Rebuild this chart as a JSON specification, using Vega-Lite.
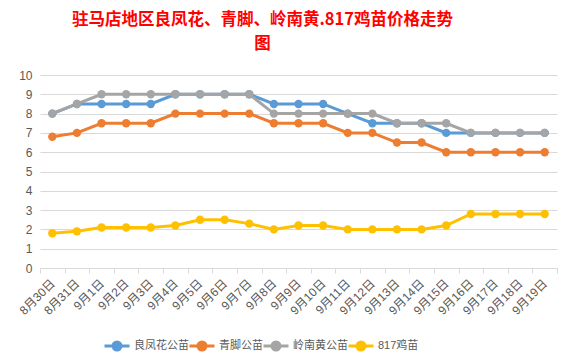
{
  "$schema": "https://vega.github.io/schema/vega-lite/v6.json",
  "autosize": "none",
  "width": 517,
  "height": 193,
  "padding": {"left": 40, "top": 75, "right": 19, "bottom": 93},
  "background": "white",
  "title": {
    "text": ["驻马店地区良凤花、青脚、岭南黄.817鸡苗价格走势", "图"],
    "color": "#FF0000",
    "font": "Noto Sans CJK SC",
    "fontSize": 16.5,
    "fontWeight": "bold",
    "lineHeight": 24,
    "anchor": "middle",
    "dx": -36,
    "offset": 17
  },
  "data": {
    "values": [
      {"date": "8月30日", "series": "良凤花公苗", "price": 8},
      {"date": "8月31日", "series": "良凤花公苗", "price": 8.5},
      {"date": "9月1日", "series": "良凤花公苗", "price": 8.5},
      {"date": "9月2日", "series": "良凤花公苗", "price": 8.5},
      {"date": "9月3日", "series": "良凤花公苗", "price": 8.5},
      {"date": "9月4日", "series": "良凤花公苗", "price": 9},
      {"date": "9月5日", "series": "良凤花公苗", "price": 9},
      {"date": "9月6日", "series": "良凤花公苗", "price": 9},
      {"date": "9月7日", "series": "良凤花公苗", "price": 9},
      {"date": "9月8日", "series": "良凤花公苗", "price": 8.5},
      {"date": "9月9日", "series": "良凤花公苗", "price": 8.5},
      {"date": "9月10日", "series": "良凤花公苗", "price": 8.5},
      {"date": "9月11日", "series": "良凤花公苗", "price": 8},
      {"date": "9月12日", "series": "良凤花公苗", "price": 7.5},
      {"date": "9月13日", "series": "良凤花公苗", "price": 7.5},
      {"date": "9月14日", "series": "良凤花公苗", "price": 7.5},
      {"date": "9月15日", "series": "良凤花公苗", "price": 7},
      {"date": "9月16日", "series": "良凤花公苗", "price": 7},
      {"date": "9月17日", "series": "良凤花公苗", "price": 7},
      {"date": "9月18日", "series": "良凤花公苗", "price": 7},
      {"date": "9月19日", "series": "良凤花公苗", "price": 7},
      {"date": "8月30日", "series": "青脚公苗", "price": 6.8},
      {"date": "8月31日", "series": "青脚公苗", "price": 7},
      {"date": "9月1日", "series": "青脚公苗", "price": 7.5},
      {"date": "9月2日", "series": "青脚公苗", "price": 7.5},
      {"date": "9月3日", "series": "青脚公苗", "price": 7.5},
      {"date": "9月4日", "series": "青脚公苗", "price": 8},
      {"date": "9月5日", "series": "青脚公苗", "price": 8},
      {"date": "9月6日", "series": "青脚公苗", "price": 8},
      {"date": "9月7日", "series": "青脚公苗", "price": 8},
      {"date": "9月8日", "series": "青脚公苗", "price": 7.5},
      {"date": "9月9日", "series": "青脚公苗", "price": 7.5},
      {"date": "9月10日", "series": "青脚公苗", "price": 7.5},
      {"date": "9月11日", "series": "青脚公苗", "price": 7},
      {"date": "9月12日", "series": "青脚公苗", "price": 7},
      {"date": "9月13日", "series": "青脚公苗", "price": 6.5},
      {"date": "9月14日", "series": "青脚公苗", "price": 6.5},
      {"date": "9月15日", "series": "青脚公苗", "price": 6},
      {"date": "9月16日", "series": "青脚公苗", "price": 6},
      {"date": "9月17日", "series": "青脚公苗", "price": 6},
      {"date": "9月18日", "series": "青脚公苗", "price": 6},
      {"date": "9月19日", "series": "青脚公苗", "price": 6},
      {"date": "8月30日", "series": "岭南黄公苗", "price": 8},
      {"date": "8月31日", "series": "岭南黄公苗", "price": 8.5},
      {"date": "9月1日", "series": "岭南黄公苗", "price": 9},
      {"date": "9月2日", "series": "岭南黄公苗", "price": 9},
      {"date": "9月3日", "series": "岭南黄公苗", "price": 9},
      {"date": "9月4日", "series": "岭南黄公苗", "price": 9},
      {"date": "9月5日", "series": "岭南黄公苗", "price": 9},
      {"date": "9月6日", "series": "岭南黄公苗", "price": 9},
      {"date": "9月7日", "series": "岭南黄公苗", "price": 9},
      {"date": "9月8日", "series": "岭南黄公苗", "price": 8},
      {"date": "9月9日", "series": "岭南黄公苗", "price": 8},
      {"date": "9月10日", "series": "岭南黄公苗", "price": 8},
      {"date": "9月11日", "series": "岭南黄公苗", "price": 8},
      {"date": "9月12日", "series": "岭南黄公苗", "price": 8},
      {"date": "9月13日", "series": "岭南黄公苗", "price": 7.5},
      {"date": "9月14日", "series": "岭南黄公苗", "price": 7.5},
      {"date": "9月15日", "series": "岭南黄公苗", "price": 7.5},
      {"date": "9月16日", "series": "岭南黄公苗", "price": 7},
      {"date": "9月17日", "series": "岭南黄公苗", "price": 7},
      {"date": "9月18日", "series": "岭南黄公苗", "price": 7},
      {"date": "9月19日", "series": "岭南黄公苗", "price": 7},
      {"date": "8月30日", "series": "817鸡苗", "price": 1.8},
      {"date": "8月31日", "series": "817鸡苗", "price": 1.9},
      {"date": "9月1日", "series": "817鸡苗", "price": 2.1},
      {"date": "9月2日", "series": "817鸡苗", "price": 2.1},
      {"date": "9月3日", "series": "817鸡苗", "price": 2.1},
      {"date": "9月4日", "series": "817鸡苗", "price": 2.2},
      {"date": "9月5日", "series": "817鸡苗", "price": 2.5},
      {"date": "9月6日", "series": "817鸡苗", "price": 2.5},
      {"date": "9月7日", "series": "817鸡苗", "price": 2.3},
      {"date": "9月8日", "series": "817鸡苗", "price": 2},
      {"date": "9月9日", "series": "817鸡苗", "price": 2.2},
      {"date": "9月10日", "series": "817鸡苗", "price": 2.2},
      {"date": "9月11日", "series": "817鸡苗", "price": 2},
      {"date": "9月12日", "series": "817鸡苗", "price": 2},
      {"date": "9月13日", "series": "817鸡苗", "price": 2},
      {"date": "9月14日", "series": "817鸡苗", "price": 2},
      {"date": "9月15日", "series": "817鸡苗", "price": 2.2},
      {"date": "9月16日", "series": "817鸡苗", "price": 2.8},
      {"date": "9月17日", "series": "817鸡苗", "price": 2.8},
      {"date": "9月18日", "series": "817鸡苗", "price": 2.8},
      {"date": "9月19日", "series": "817鸡苗", "price": 2.8}
    ]
  },
  "mark": {"type": "line", "strokeWidth": 3, "point": {"size": 70, "filled": true, "opacity": 1}},
  "encoding": {
    "x": {
      "field": "date",
      "type": "ordinal",
      "sort": null,
      "bandPosition": 0.5,
      "scale": {"type": "band", "paddingInner": 0, "paddingOuter": 0},
      "axis": {
        "title": null,
        "labelAngle": -45,
        "labelAlign": "right",
        "labelBaseline": "middle",
        "labelFont": "Liberation Sans, Noto Sans CJK SC",
        "labelFontSize": 12,
        "labelColor": "#595959",
        "labelPadding": 8,
        "tickBand": "extent",
        "tickSize": 5,
        "tickColor": "#d9d9d9",
        "domainColor": "#d9d9d9",
        "domainWidth": 1,
        "grid": false
      }
    },
    "y": {
      "field": "price",
      "type": "quantitative",
      "scale": {"domain": [0, 10], "nice": false},
      "axis": {
        "title": null,
        "values": [0, 1, 2, 3, 4, 5, 6, 7, 8, 9, 10],
        "labelFont": "Liberation Sans",
        "labelFontSize": 12,
        "labelColor": "#595959",
        "labelPadding": 8,
        "domain": false,
        "ticks": false,
        "grid": true,
        "gridColor": "#d9d9d9"
      }
    },
    "color": {
      "field": "series",
      "type": "nominal",
      "sort": null,
      "scale": {
        "domain": ["良凤花公苗", "青脚公苗", "岭南黄公苗", "817鸡苗"],
        "range": ["#5B9BD5", "#ED7D31", "#A5A5A5", "#FFC000"]
      },
      "legend": {
        "title": null,
        "orient": "none",
        "legendX": 63,
        "legendY": 257,
        "direction": "horizontal",
        "gridAlign": "none",
        "labelFont": "Liberation Sans, Noto Sans CJK SC",
        "labelFontSize": 11,
        "labelColor": "#595959",
        "symbolType": "M -1 0 L 1 0 M -0.32 0 A 0.32 0.32 0 1 0 0.32 0 A 0.32 0.32 0 1 0 -0.32 0",
        "symbolSize": 625,
        "symbolStrokeWidth": 3,
        "symbolOpacity": 1,
        "columnPadding": -6,
        "labelOffset": 3
      }
    }
  },
  "config": {"view": {"stroke": null}}
}
